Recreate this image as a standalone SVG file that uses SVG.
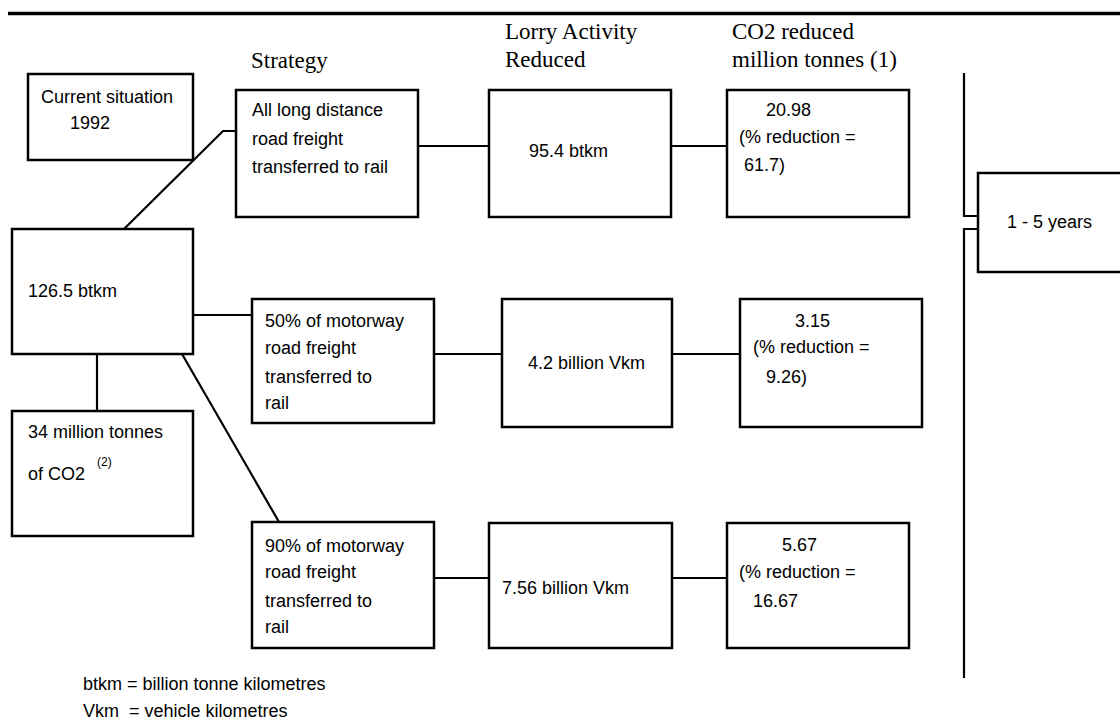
<svg xmlns="http://www.w3.org/2000/svg" width="1120" height="719" viewBox="0 0 1120 719">
<style>
  .box { fill: #fff; stroke: #000; stroke-width: 2.5; }
  .conn { fill: none; stroke: #000; stroke-width: 2.2; }
  .t { font-family: "Liberation Sans", Arial, sans-serif; font-size: 18px; fill: #000; }
  .h { font-family: "Liberation Serif", "Times New Roman", serif; font-size: 23px; fill: #000; }
  .sup { font-family: "Liberation Sans", Arial, sans-serif; font-size: 12px; fill: #000; }
</style>
<rect x="0" y="0" width="1120" height="719" fill="#fff"/>
<line x1="8" y1="13.5" x2="1120" y2="13.5" stroke="#000" stroke-width="3.5"/>

<g id="headers">
  <text class="h" x="251" y="68">Strategy</text>
  <text class="h" x="505" y="39">Lorry Activity</text>
  <text class="h" x="505" y="67">Reduced</text>
  <text class="h" x="732" y="39">CO2 reduced</text>
  <text class="h" x="732" y="67">million tonnes (1)</text>
</g>

<g id="connectors">
  <polyline class="conn" points="124,229 223,131 236,131"/>
  <line class="conn" x1="418" y1="146" x2="489" y2="146"/>
  <line class="conn" x1="671" y1="146" x2="727" y2="146"/>
  <line class="conn" x1="193" y1="315" x2="252" y2="315"/>
  <line class="conn" x1="434" y1="354" x2="502" y2="354"/>
  <line class="conn" x1="672" y1="354" x2="740" y2="354"/>
  <line class="conn" x1="97" y1="354" x2="97" y2="411"/>
  <line class="conn" x1="182" y1="354" x2="279" y2="522"/>
  <line class="conn" x1="434" y1="578" x2="489" y2="578"/>
  <line class="conn" x1="672" y1="578" x2="727" y2="578"/>
  <polyline class="conn" points="964,73 964,216 978,216"/>
  <polyline class="conn" points="978,229 964,229 964,678"/>
</g>

<g id="current">
  <rect class="box" x="28" y="74" width="165" height="86"/>
  <text class="t" x="41" y="103">Current situation</text>
  <text class="t" x="70" y="129">1992</text>
</g>

<g id="total">
  <rect class="box" x="12" y="229" width="181" height="125"/>
  <text class="t" x="28" y="297">126.5 btkm</text>
</g>

<g id="co2total">
  <rect class="box" x="12" y="411" width="181" height="125"/>
  <text class="t" x="28" y="438">34 million tonnes</text>
  <text class="t" x="28" y="480">of CO2</text>
  <text class="sup" x="97" y="466">(2)</text>
</g>

<g id="strategy1">
  <rect class="box" x="236" y="90" width="182" height="127"/>
  <text class="t" x="252" y="116">All long distance</text>
  <text class="t" x="252" y="145">road freight</text>
  <text class="t" x="252" y="173">transferred to rail</text>
</g>

<g id="strategy2">
  <rect class="box" x="252" y="299" width="182" height="124"/>
  <text class="t" x="265" y="327">50% of motorway</text>
  <text class="t" x="265" y="354">road freight</text>
  <text class="t" x="265" y="383">transferred to</text>
  <text class="t" x="265" y="409">rail</text>
</g>

<g id="strategy3">
  <rect class="box" x="252" y="522" width="182" height="126"/>
  <text class="t" x="265" y="552">90% of motorway</text>
  <text class="t" x="265" y="578">road freight</text>
  <text class="t" x="265" y="607">transferred to</text>
  <text class="t" x="265" y="633">rail</text>
</g>

<g id="lorry1">
  <rect class="box" x="489" y="90" width="182" height="127"/>
  <text class="t" x="529" y="157">95.4 btkm</text>
</g>

<g id="lorry2">
  <rect class="box" x="502" y="299" width="170" height="128"/>
  <text class="t" x="528" y="369">4.2 billion Vkm</text>
</g>

<g id="lorry3">
  <rect class="box" x="489" y="523" width="183" height="125"/>
  <text class="t" x="502" y="594">7.56 billion Vkm</text>
</g>

<g id="co2a">
  <rect class="box" x="727" y="90" width="182" height="127"/>
  <text class="t" x="766" y="116">20.98</text>
  <text class="t" x="739" y="143">(% reduction =</text>
  <text class="t" x="744" y="171">61.7)</text>
</g>

<g id="co2b">
  <rect class="box" x="740" y="299" width="182" height="128"/>
  <text class="t" x="795" y="327">3.15</text>
  <text class="t" x="753" y="353">(% reduction =</text>
  <text class="t" x="766" y="383">9.26)</text>
</g>

<g id="co2c">
  <rect class="box" x="727" y="523" width="182" height="125"/>
  <text class="t" x="782" y="551">5.67</text>
  <text class="t" x="739" y="578">(% reduction =</text>
  <text class="t" x="753" y="607">16.67</text>
</g>

<g id="period">
  <rect class="box" x="978" y="173" width="150" height="99"/>
  <text class="t" x="1007" y="228">1 - 5 years</text>
</g>

<g id="legend">
  <text class="t" x="83" y="690">btkm = billion tonne kilometres</text>
  <text class="t" x="83" y="717" xml:space="preserve">Vkm  = vehicle kilometres</text>
</g>
</svg>
